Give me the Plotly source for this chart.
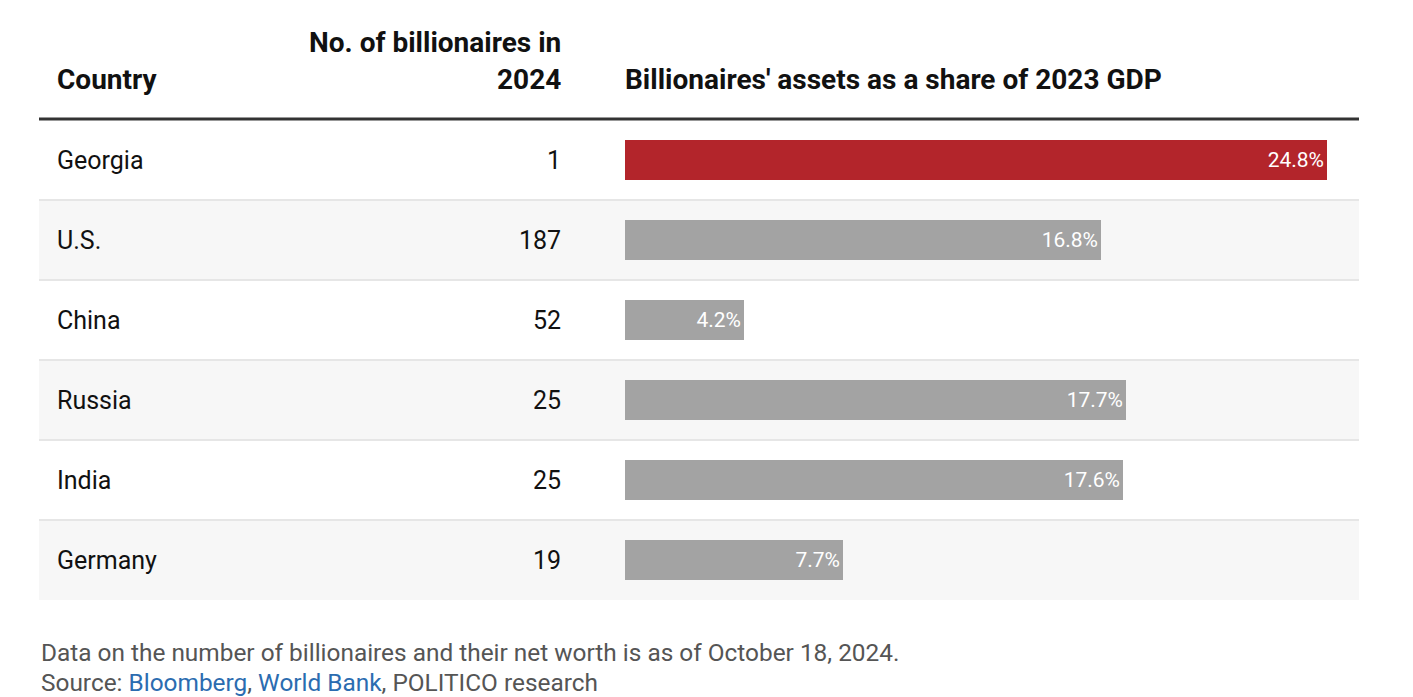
import plotly.graph_objects as go

countries = ["Georgia", "U.S.", "China", "Russia", "India", "Germany"]
billionaires = [1, 187, 52, 25, 25, 19]
share_gdp = [24.8, 16.8, 4.2, 17.7, 17.6, 7.7]
bar_colors = ["#b3252b", "#a3a3a3", "#a3a3a3", "#a3a3a3", "#a3a3a3", "#a3a3a3"]

# page body has an 8px default margin; figure is sized to fill the rest
OFF = 8
W, H = 1413 - OFF, 697 - OFF
FONT = "Roboto, 'DejaVu Sans', sans-serif"

def px(x):
    return (x - OFF) / W

def py(y):
    return 1 - (y - OFF) / H

table_left, table_right = 39, 1359
row_top, row_h = 120, 80
bar_x0 = 625
px_per_unit = (1327 - 625) / 24.8
n = len(countries)

fig = go.Figure()
fig.add_trace(go.Bar(
    x=share_gdp,
    y=countries,
    orientation="h",
    marker=dict(color=bar_colors, line=dict(width=0)),
    width=0.5,
    text=[f"{v:.1f}%" for v in share_gdp],
    textposition="inside",
    insidetextanchor="end",
    textangle=0,
    textfont=dict(family=FONT, size=21, color="white"),
    constraintext="none",
    hoverinfo="skip",
    cliponaxis=False,
))

shapes = []
for i in range(n):
    if i % 2 == 1:
        shapes.append(dict(type="rect", xref="paper", yref="y",
                           x0=px(table_left), x1=px(table_right),
                           y0=i - 0.5, y1=i + 0.5,
                           fillcolor="#f7f7f7", line=dict(width=0), layer="below"))
for i in range(1, n):
    shapes.append(dict(type="line", xref="paper", yref="y",
                       x0=px(table_left), x1=px(table_right),
                       y0=i - 0.5, y1=i - 0.5,
                       line=dict(color="#e6e6e6", width=2), layer="below"))
shapes.append(dict(type="line", xref="paper", yref="paper",
                   x0=px(table_left), x1=px(table_right),
                   y0=py(119), y1=py(119),
                   line=dict(color="#333333", width=3)))

HDR = 28
annotations = []
annotations.append(dict(text="<b>Country</b>", x=px(55), y=py(80), xref="paper", yref="paper",
                        xanchor="left", yanchor="middle", showarrow=False,
                        font=dict(family=FONT, size=HDR, color="#111")))
annotations.append(dict(text="<b>No. of billionaires in</b>", x=px(563), y=py(42), xref="paper", yref="paper",
                        xanchor="right", yanchor="middle", showarrow=False,
                        font=dict(family=FONT, size=HDR, color="#111")))
annotations.append(dict(text="<b>2024</b>", x=px(563), y=py(80), xref="paper", yref="paper",
                        xanchor="right", yanchor="middle", showarrow=False,
                        font=dict(family=FONT, size=HDR, color="#111")))
annotations.append(dict(text="<b>Billionaires' assets as a share of 2023 GDP</b>", x=px(623), y=py(80),
                        xref="paper", yref="paper", xanchor="left", yanchor="middle", showarrow=False,
                        font=dict(family=FONT, size=HDR, color="#111")))
for c, b in zip(countries, billionaires):
    annotations.append(dict(text=c, x=px(55), y=c, xref="paper", yref="y",
                            xanchor="left", yanchor="middle", showarrow=False,
                            font=dict(family=FONT, size=25, color="#111")))
    annotations.append(dict(text=str(b), x=px(563), y=c, xref="paper", yref="y",
                            xanchor="right", yanchor="middle", showarrow=False,
                            font=dict(family=FONT, size=25, color="#111")))
annotations.append(dict(text="Data on the number of billionaires and their net worth is as of October 18, 2024.",
                        x=px(39), y=py(652), xref="paper", yref="paper",
                        xanchor="left", yanchor="middle", showarrow=False,
                        font=dict(family=FONT, size=24.4, color="#555555")))
annotations.append(dict(text="Source: <span style='color:#2b6cb0'>Bloomberg</span>, "
                             "<span style='color:#2b6cb0'>World Bank</span>, POLITICO research",
                        x=px(39), y=py(682), xref="paper", yref="paper",
                        xanchor="left", yanchor="middle", showarrow=False,
                        font=dict(family=FONT, size=24.4, color="#555555")))

fig.update_layout(
    width=W, height=H,
    margin=dict(l=0, r=0, t=0, b=0),
    paper_bgcolor="white", plot_bgcolor="rgba(0,0,0,0)",
    showlegend=False,
    bargap=0,
    xaxis=dict(domain=[px(bar_x0), px(table_right)],
               range=[0, (table_right - bar_x0) / px_per_unit],
               visible=False, fixedrange=True),
    yaxis=dict(domain=[py(row_top + n * row_h), py(row_top)],
               type="category", categoryorder="array", categoryarray=countries,
               range=[n - 0.5, -0.5], visible=False, fixedrange=True),
    shapes=shapes,
    annotations=annotations,
)

fig.write_html("out.html", config={"displayModeBar": False})
